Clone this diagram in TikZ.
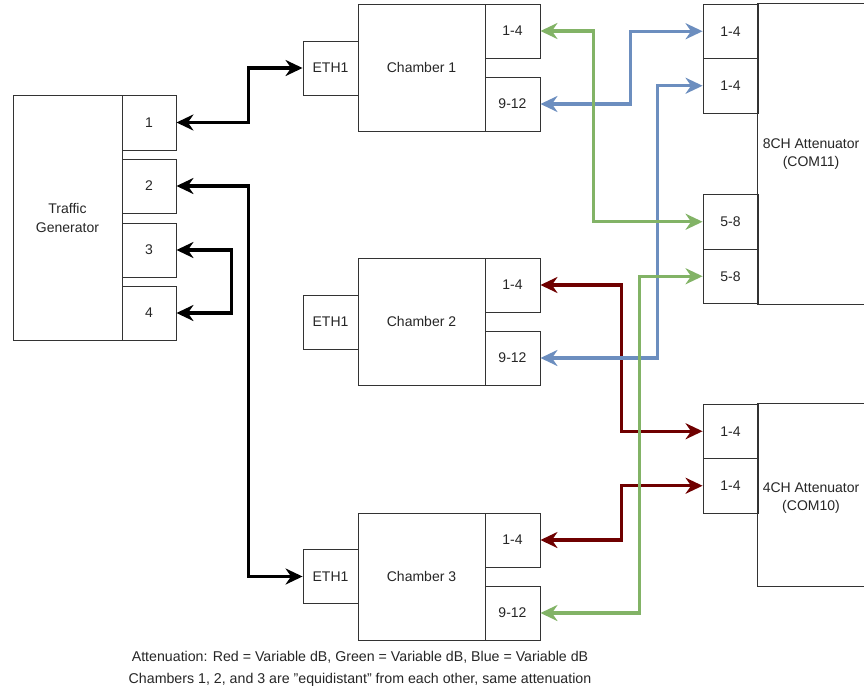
\documentclass[tikz,border=0pt]{standalone}
\usepackage{fontspec}
\setmainfont{Liberation Sans}
\usetikzlibrary{arrows.meta}
\definecolor{cgreen}{HTML}{82B366}
\definecolor{cblue}{HTML}{6C8EBF}
\definecolor{cred}{HTML}{6F0000}
\definecolor{cborder}{HTML}{333333}
\begin{document}
\begin{tikzpicture}[x=1pt,y=-1pt,
 box/.style={draw=cborder, line width=0.9pt, inner sep=0pt, align=center, font=\fontsize{14}{18}\selectfont, text=black!85},
 plainbox/.style={inner sep=0pt, align=center, font=\fontsize{14}{18}\selectfont, text=black!85},
 port/.style={box, minimum width=55pt, minimum height=54pt},
 conn/.style={line width=3.4pt, {Stealth[length=17pt,width=16pt,inset=5.5pt]}-{Stealth[length=17pt,width=16pt,inset=5.5pt]}},
 note/.style={inner sep=0pt, align=center, font=\fontsize{14.2}{22}\selectfont, text=black!85},
]
\useasboundingbox (0,0) rectangle (864,696);
\fill[white] (0,0) rectangle (864,696);

% Traffic generator
\node[box, minimum width=109pt, minimum height=245pt] (tg) at (67.5,217.5) {Traffic\\[1pt]Generator};
\node[box, minimum width=54pt, minimum height=55pt] (tg1) at (149,122.5) {1};
\node[box, minimum width=54pt, minimum height=54pt] (tg2) at (149,186) {2};
\node[box, minimum width=54pt, minimum height=54pt] (tg3) at (149,250) {3};
\node[box, minimum width=54pt, minimum height=54pt] (tg4) at (149,313) {4};

% Chambers
\node[box, minimum width=127pt, minimum height=127pt] (c1) at (421.5,67.5) {Chamber 1};
\node[port] (c1eth) at (330.5,68) {ETH1};
\node[port] (c1p1) at (512.5,31) {1-4};
\node[port] (c1p2) at (512.5,104) {9-12};

\node[box, minimum width=127pt, minimum height=127pt] (c2) at (421.5,321.5) {Chamber 2};
\node[port] (c2eth) at (330.5,322) {ETH1};
\node[port] (c2p1) at (512.5,285) {1-4};
\node[port] (c2p2) at (512.5,358) {9-12};

\node[box, minimum width=127pt, minimum height=127pt] (c3) at (421.5,576.5) {Chamber 3};
\node[port] (c3eth) at (330.5,576.5) {ETH1};
\node[port] (c3p1) at (512.5,540) {1-4};
\node[port] (c3p2) at (512.5,613) {9-12};

% 8CH attenuator
\node[plainbox, minimum width=106pt, minimum height=300pt] (att8) at (811,154) {8CH Attenuator\\(COM11)};
\draw[cborder, line width=0.9pt] (att8.north east) -- (att8.north west) -- (att8.south west) -- (att8.south east);
\node[port, minimum height=54.5pt] (a1) at (730.5,31.25) {1-4};
\node[port, minimum height=54.5pt] (a2) at (730.5,85.75) {1-4};
\node[port, minimum height=54.5pt] (a5) at (730.5,221.75) {5-8};
\node[port, minimum height=54.5pt] (a6) at (730.5,276.25) {5-8};

% 4CH attenuator
\node[plainbox, minimum width=106pt, minimum height=182pt] (att4) at (811,495) {\\[-3pt]4CH Attenuator\\(COM10)};
\draw[cborder, line width=0.9pt] (att4.north east) -- (att4.north west) -- (att4.south west) -- (att4.south east);
\node[port, minimum height=54.5pt] (b1) at (730.5,431.25) {1-4};
\node[port, minimum height=54.5pt] (b2) at (730.5,485.75) {1-4};

% black connections
\draw[conn, black] (tg1.east) -- ++(72,0) |- (c1eth.west);
\draw[conn, black] (tg2.east) -- ++(72,0) |- (c3eth.west);
\draw[conn, black] (tg3.east) -- ++(55,0) |- (tg4.east);

% coloured connections
\draw[conn, cred] (c2p1.east) -- ++(81,0) |- (b1.west);
\draw[conn, cred] (c3p1.east) -- ++(81,0) |- (b2.west);
\draw[conn, cblue] (c1p2.east) -- ++(90,0) |- (a1.west);
\draw[conn, cblue] (a2.west) -- ++(-45,0) |- (c2p2.east);
\draw[conn, cgreen] (c1p1.east) -- ++(53,0) |- (a5.west);
\draw[conn, cgreen] (a6.west) -- ++(-63,0) |- (c3p2.east);

% notes
\node[note] (notes) at (360,669) {Attenuation: Red = Variable dB, Green = Variable dB, Blue = Variable dB\\Chambers 1, 2, and 3 are "equidistant" from each other, same attenuation};
\end{tikzpicture}
\end{document}
